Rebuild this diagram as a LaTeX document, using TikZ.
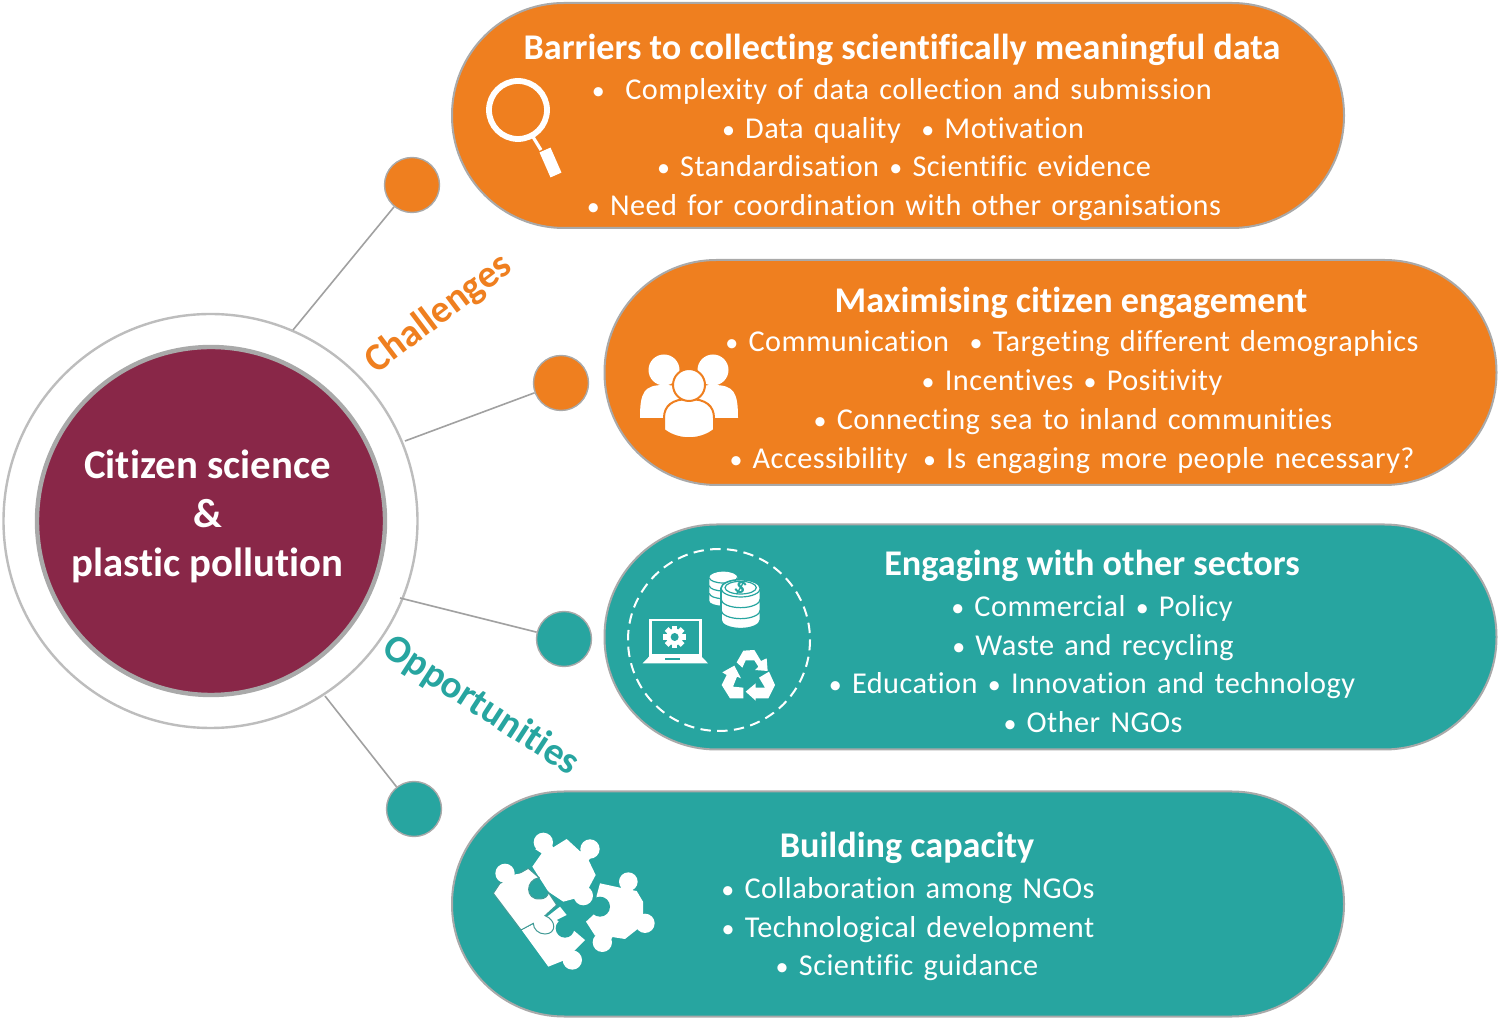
\documentclass[tikz,border=0pt]{standalone}
\usepackage{fontspec}
\setmainfont[Ligatures=NoCommon]{Carlito}
\newfontfamily\bodyf[LetterSpace=1.5,WordSpace=1.4,Ligatures=NoCommon]{Carlito}
\definecolor{org}{HTML}{EF7F1F}
\definecolor{teal2}{HTML}{27A5A0}
\definecolor{maro}{HTML}{892748}
\definecolor{gborder}{HTML}{A9A9A9}
\definecolor{gring}{HTML}{BDBDBD}
\newcommand{\bu}{{\fontsize{13}{13}\selectfont •}}
\tikzset{
  pill/.style={draw=gborder,line width=1pt,rectangle,rounded corners=56pt,minimum height=112.5pt,minimum width=446pt,inner sep=0pt},
  dot/.style={draw=gborder,line width=.7pt,circle,minimum size=27.5pt,inner sep=0pt},
  link/.style={draw=gring!85!black,line width=.8pt},
  ttl/.style={text=white,font=\fontsize{18.1}{18}\selectfont\bfseries,inner sep=0pt,anchor=base},
  bod/.style={text=white,font=\bodyf\fontsize{15.15}{15}\selectfont,inner sep=0pt,anchor=base},
  ctr/.style={text=white,font=\fontsize{20.4}{20}\selectfont\bfseries,inner sep=0pt,anchor=base},
  side/.style={font=\fontsize{19.4}{19}\selectfont\bfseries,inner sep=0pt},
  ico/.style={fill=white,draw=none},
  seam/.style={teal2,line width=.6pt},
  neck/.style={white,line width=6pt}
}
\begin{document}
\begin{tikzpicture}[x=0.5pt,y=-0.5pt]
\useasboundingbox (0,0) rectangle (1500,1020);
\fill[white] (0,0) rectangle (1500,1020);
% central circles
\node[circle,draw=gring,line width=1.2pt,minimum size=207pt,inner sep=0pt] (ring) at (210.5,521) {};
\node[circle,fill=maro,draw=gborder,line width=2.2pt,minimum size=174pt,inner sep=0pt] (hub) at (211,521) {};
\node[ctr] (c1) at (207.5,479) {Citizen science};
\node[ctr] (c2) at (207.5,528) {\&};
\node[ctr] (c3) at (207.5,577) {plastic pollution};
% dots
\node[dot,fill=org] (d1) at (412,185) {};
\node[dot,fill=org] (d2) at (561,383) {};
\node[dot,fill=teal2] (d3) at (564,639) {};
\node[dot,fill=teal2] (d4) at (414,809) {};
\coordinate (r1) at (293,330);
\coordinate (r2) at (405,441);
\coordinate (r3) at (400,598);
\coordinate (r4) at (325,696);
\draw[link] (r1) -- (d1);
\draw[link] (r2) -- (d2);
\draw[link] (r3) -- (d3);
\draw[link] (r4) -- (d4);
% side labels
\node[side,text=org,rotate=37] (chal) at (439,314) {Challenges};
\node[side,text=teal2,rotate=-33] (opp) at (481,706) {Opportunities};
% pills
\node[pill,fill=org] (p1) at (898,115.5) {};
\node[pill,fill=org] (p2) at (1050.5,372.5) {};
\node[pill,fill=teal2] (p3) at (1050.5,637) {};
\node[pill,fill=teal2] (p4) at (898,904) {};
% pill 1 text
\node[ttl] (t1) at (902,60) {Barriers to collecting scientifically meaningful data};
\node[bod] (t1a) at (902,100) {\bu\ \ Complexity of data collection and submission};
\node[bod] (t1b) at (903,139) {\bu\ Data quality \ \bu\ Motivation};
\node[bod] (t1c) at (904,177) {\bu\ Standardisation \bu\ Scientific evidence};
\node[bod] (t1d) at (904,216) {\bu\ Need for coordination with other organisations};
% pill 2 text
\node[ttl] (t2) at (1071,313) {Maximising citizen engagement};
\node[bod] (t2a) at (1072,352) {\bu\ Communication \ \bu\ Targeting different demographics};
\node[bod] (t2b) at (1072,391) {\bu\ Incentives \bu\ Positivity};
\node[bod] (t2c) at (1073,429.5) {\bu\ Connecting sea to inland communities};
\node[bod] (t2d) at (1072,468.5) {\bu\ Accessibility \,\bu\ Is engaging more people necessary?};
% pill 3 text
\node[ttl] (t3) at (1092,576) {Engaging with other sectors};
\node[bod] (t3a) at (1092,616.5) {\bu\ Commercial \bu\ Policy};
\node[bod] (t3b) at (1093,655.5) {\bu\ Waste and recycling};
\node[bod] (t3c) at (1092,693.5) {\bu\ Education \bu\ Innovation and technology};
\node[bod] (t3d) at (1093,732.5) {\bu\ Other NGOs};
% pill 4 text
\node[ttl] (t4) at (907,858) {Building capacity};
\node[bod] (t4a) at (908,898.5) {\bu\ Collaboration among NGOs};
\node[bod] (t4b) at (908,937.5) {\bu\ Technological development};
\node[bod] (t4c) at (907,975.5) {\bu\ Scientific guidance};
% magnifier
\draw[white,line width=2.9pt] (518,110) circle (29);
\draw[white,line width=1.6pt] (533,137) -- (541,150);
\draw[white,line width=6pt] (545,150) -- (556,175);
% people
\path[ico] (640,418) .. controls (640,392) and (644,385) .. (664,385) .. controls (684,385) and (688,392) .. (688,418) -- cycle;
\path[ico] (690,418) .. controls (690,392) and (694,385) .. (713,385) .. controls (734,385) and (738,392) .. (738,418) -- cycle;
\fill[white] (664,370) circle (15.5);
\fill[white] (713,370) circle (15.5);
\path[ico,draw=org,line width=1pt] (664,430) -- (664,418) .. controls (664,406) and (672,399) .. (689,399) .. controls (706,399) and (714,406) .. (714,418) -- (714,430) .. controls (700,441) and (678,441) .. (664,430) -- cycle;
\path[ico,draw=org,line width=1pt] (689,385) circle (16);
% dashed circle
\draw[white,line width=1pt,dash pattern=on 5.2pt off 3.2pt] (719,640) circle (91);
\begin{scope}[shift={(615,535)},scale=1/3]
% coins, back stack
\path[ico] (283,128) -- (283,197) arc[start angle=180,end angle=0,x radius=42,y radius=15] -- (367,128) arc[start angle=0,end angle=-180,x radius=42,y radius=18] -- cycle;
\foreach \yy in {128,152,175}{
  \draw[seam] (283,\yy) arc[start angle=180,end angle=0,x radius=42,y radius=16];
}
% coins, front stack
\path[fill=white,draw=teal2,line width=.8pt] (318,160) -- (318,255) arc[start angle=180,end angle=0,x radius=59,y radius=26] -- (436,160) arc[start angle=0,end angle=-180,x radius=59,y radius=26] -- cycle;
\foreach \yy in {160,192,225}{
  \draw[seam] (318,\yy) arc[start angle=180,end angle=0,x radius=59,y radius=26];
}
\draw[seam] (377,158) ellipse (47 and 19);
\node[text=teal2,font=\fontsize{11}{11}\selectfont\bfseries,rotate=-25,inner sep=0pt] (dollar) at (377,158) {\$};
% laptop
\draw[white,line width=1.4pt,fill=teal2] (106,255) rectangle (256,362);
\path[ico] (105,362) -- (257,362) -- (279,385) -- (83,385) -- cycle;
\fill[teal2] (150,369) rectangle (195,375);
% gear
\begin{scope}[shift={(179,306)}]
\foreach \a in {0,45,...,315}{\path[ico,rotate=\a] (-8,-34) rectangle (8,-20);}
\fill[white] (0,0) circle (25);
\fill[teal2] (0,0) circle (12);
\end{scope}
% recycle
\path[ico] (365,382) -- (385,347) -- (418,345) -- (438,378) -- (455,370) -- (458,408) -- (420,405) -- (430,395) -- (418,376) -- (392,376) -- (382,398) -- cycle;
\path[ico] (358,392) -- (378,430) -- (366,425) -- (354,455) -- (385,458) -- (385,490) -- (345,490) -- (320,450) -- (335,420) -- (322,412) -- cycle;
\path[ico] (392,470) -- (422,445) -- (422,458) -- (450,458) -- (432,428) -- (462,410) -- (480,450) -- (460,490) -- (422,490) -- (422,497) -- cycle;
\end{scope}
% puzzle
\begin{scope}[shift={(485,825)},scale=1/3]
% bottom piece
\path[ico] (110,315) -- (190,425) -- (240,405) -- (300,345) -- (268,318) -- (215,285) -- (245,270) -- (225,245) -- (180,280) -- cycle;
\fill[white] (262,405) circle (29);
\draw[neck] (262,405) -- (235,385);
\fill[teal2] (240,310) circle (28);
% top piece
\path[ico] (150,72) -- (200,70) -- (245,42) -- (295,88) -- (308,100) -- (332,150) -- (308,195) -- (280,218) -- (235,230) -- (190,200) -- (142,125) -- (170,85) -- cycle;
\fill[white] (175,52) circle (29) (315,72) circle (29) (295,212) circle (29);
\draw[neck] (175,52) -- (200,95) (315,72) -- (285,110) (295,212) -- (270,180);
% left piece
\path[ico] (60,145) circle (29);
\draw[neck] (60,145) -- (78,180);
\path[fill=white,draw=teal2!70!gray,line width=.5pt] (25,205) -- (45,175) -- (95,150) -- (130,130) -- (162,158)
  .. controls (120,165) and (120,225) .. (165,222) .. controls (180,222) and (190,212) .. (190,202) -- (215,240) -- (180,272)
  .. controls (215,285) and (215,327) .. (180,327) .. controls (160,327) and (145,312) .. (145,295) -- (108,315) -- cycle;
\path[ico] (45,165) -- (80,150) -- (110,145) -- (70,190) -- cycle;
% right piece
\path[ico] (345,175) -- (405,188) -- (455,198) -- (474,230) -- (474,270) -- (458,312) -- (420,342) -- (375,335) -- (330,332) -- (303,290) -- (330,265) -- (335,212) -- cycle;
\fill[white] (430,170) circle (28) (480,295) circle (29) (352,352) circle (29);
\draw[neck] (430,170) -- (420,215) (480,295) -- (440,280) (352,352) -- (380,305);
\fill[teal2] (345,245) circle (30);
\end{scope}
\end{tikzpicture}
\end{document}
